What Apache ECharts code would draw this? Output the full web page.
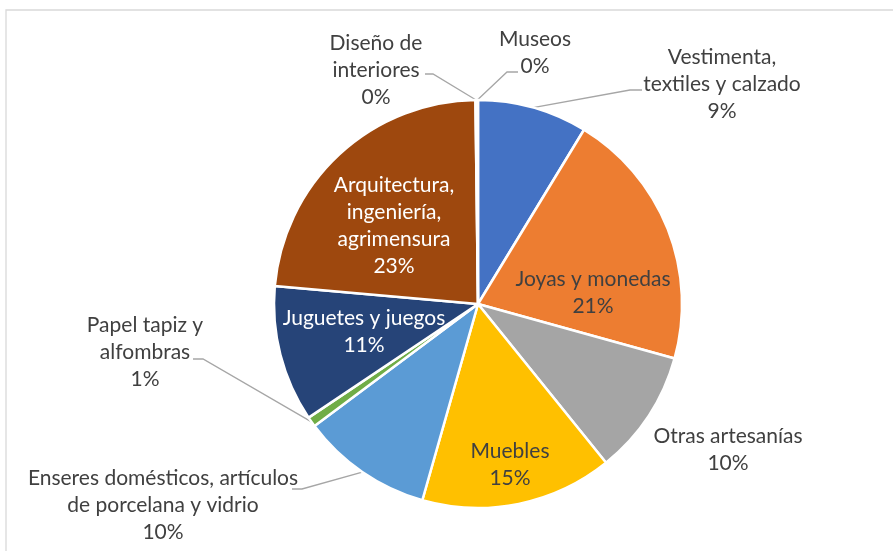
<!DOCTYPE html>
<html>
<head>
<meta charset="utf-8">
<script src="https://cdn.jsdelivr.net/npm/echarts@6/dist/echarts.min.js"></script>
<style>
  html, body { margin: 0; padding: 0; background: #fff; }
  #chart { width: 893px; height: 551px; }
</style>
</head>
<body>
<div id="chart"></div>
<script>
// categorias en el orden de las rebanadas (sentido horario desde arriba)
const categories = [
    'Vestimenta,\ntextiles y calzado',
    'Joyas y monedas',
    'Otras artesanías',
    'Muebles',
    'Enseres domésticos, artículos\nde porcelana y vidrio',
    'Papel tapiz y\nalfombras',
    'Juguetes y juegos',
    'Arquitectura,\ningeniería,\nagrimensura',
    'Diseño de\ninteriores',
    'Museos'
];
// porcentajes
const values = [8.7, 20.6, 9.9, 15.2, 10.4, 0.8, 10.8, 23.4, 0.1, 0.1];
const colors = ['#4472C4', '#ED7D31', '#A5A5A5', '#FFC000', '#5B9BD5',
                '#70AD47', '#264478', '#9E480E', '#636363', '#997300'];

// posicion de las etiquetas (centro del texto) y codo de la linea guia
const labelPos = [
    [722, 84], [593, 293], [728, 450], [510, 465], [163, 505],
    [145, 352], [364, 332], [394, 226], [376, 70], [535, 53]
];
const elbow = [
    [[630, 90], [642, 90]], null, null, null, [[302, 489], [292, 489]],
    [[203, 359], [193, 359]], null, null, [[433, 74], [425, 74]], [[507, 72], [518, 72]]
];
const whiteText = [6, 7];

const chart = echarts.init(document.getElementById('chart'));

const data = categories.map((name, i) => ({
    name: name,
    value: values[i],
    itemStyle: { color: colors[i] },
    label: { color: whiteText.indexOf(i) >= 0 ? '#fff' : '#404040' },
    labelLine: { show: !!elbow[i] }
}));

chart.setOption({
    animation: false,
    graphic: [{
        type: 'rect',
        shape: { x: 6, y: 10, width: 1000, height: 700 },
        style: { fill: 'none', stroke: '#D9D9D9', lineWidth: 1.3 },
        silent: true
    }],
    series: [{
        type: 'pie',
        center: [478, 304],
        radius: 204,
        startAngle: 90,
        avoidLabelOverlap: false,
        data: data,
        itemStyle: { borderColor: '#fff', borderWidth: 2.5 },
        label: {
            show: true,
            position: 'outside',
            fontFamily: 'Lato',
            fontSize: 21,
            lineHeight: 27,
            align: 'center',
            formatter: p => p.name + '\n' + Math.round(p.percent) + '%'
        },
        labelLine: {
            lineStyle: { color: '#A6A6A6', width: 1.3 },
            length: 10,
            length2: 10
        },
        labelLayout: function (params) {
            const i = params.dataIndex;
            const out = {
                x: labelPos[i][0],
                y: labelPos[i][1],
                align: 'center',
                verticalAlign: 'middle',
                hideOverlap: false
            };
            if (elbow[i] && params.labelLinePoints) {
                out.labelLinePoints = [params.labelLinePoints[0], elbow[i][0], elbow[i][1]];
            }
            return out;
        }
    }]
});
</script>
</body>
</html>
